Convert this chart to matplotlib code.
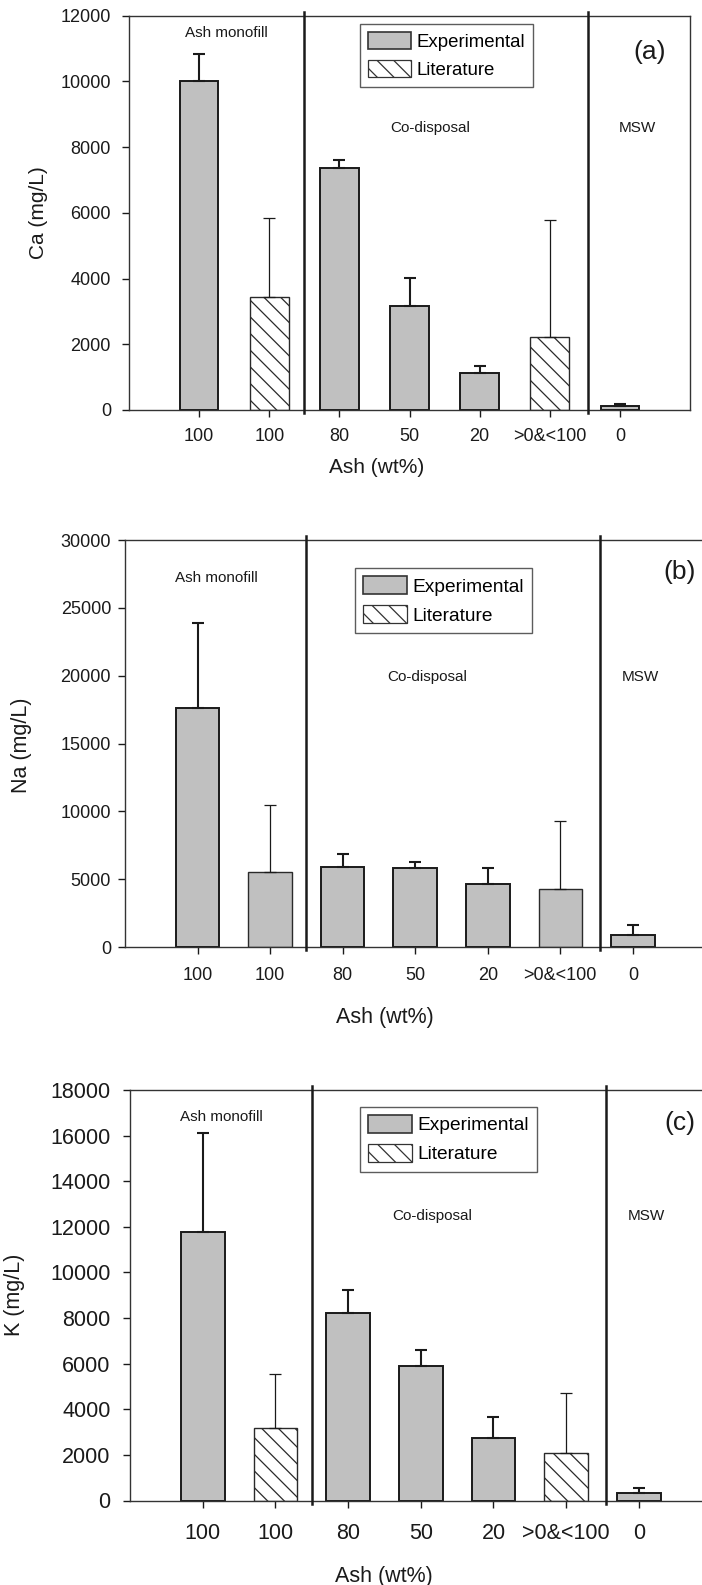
import matplotlib
matplotlib.use("Agg")
import matplotlib.pyplot as plt
import numpy as np
from matplotlib.patches import Patch

plt.rcParams["font.family"] = ["Liberation Sans", "DejaVu Sans"]
plt.rcParams["hatch.linewidth"] = 0.9

# ash content categories on the x axis
categories = ["100", "100", "80", "50", "20", ">0&<100", "0"]
is_literature = [False, True, False, False, False, True, False]

# mean concentration and upper error (mg/L)
ca_mean = [10000, 3440, 7370, 3170, 1120, 2220, 120]
ca_err = [820, 2410, 250, 860, 210, 3550, 60]
na_mean = [17650, 5510, 5900, 5840, 4660, 4240, 870]
na_err = [6230, 4990, 960, 450, 1140, 5070, 720]
k_mean = [11790, 3190, 8220, 5900, 2730, 2100, 320]
k_err = [4330, 2350, 990, 710, 940, 2600, 210]

region_labels = ["Ash monofill", "Co-disposal", "MSW"]
region_bounds = [1.5, 5.55]

GRAY = "#c0c0c0"
DARK = "#1a1a1a"
W, H = 702, 1585


def px_axes(left, top, width, bottom):
    return [left / W, 1 - bottom / H, width / W, (bottom - top) / H]


def draw_panel(fig, rect, means, errs, hatch_lit, ymax, ystep, ylabel, tag,
               bar_w, tick_fs, label_fs, tick_pad_x, tick_pad_y,
               ylab_xy, xlab_xy, region_pos, tag_pos, legend_xy, legend_fs):
    ax = fig.add_axes(rect)
    x = np.arange(len(categories))
    means = np.asarray(means, float)
    errs = np.asarray(errs, float)
    lit = np.asarray(is_literature)

    for i in x:
        hatched = hatch_lit and lit[i]
        ax.bar(x[i], means[i], width=bar_w,
               color="white" if hatched else GRAY,
               edgecolor="#2a2a2a" if lit[i] else DARK,
               linewidth=1.0 if lit[i] else 1.4,
               hatch="\\\\" if hatched else None, zorder=2)
    for mask, lw in [(~lit, 1.5), (lit, 0.9)]:
        ax.errorbar(x[mask], means[mask],
                    yerr=[np.zeros(mask.sum()), errs[mask]],
                    fmt="none", ecolor=DARK, elinewidth=lw, capsize=4,
                    capthick=lw, zorder=3)

    for b in region_bounds:
        ax.axvline(b, ymin=-0.008, ymax=1.01, color=DARK, lw=1.8,
                   clip_on=False, zorder=4)

    ax.set_xlim(-1, 7)
    ax.set_ylim(0, ymax)
    ax.set_yticks(np.arange(0, ymax + 1, ystep))
    ax.set_xticks(x)
    ax.set_xticklabels(categories)
    ax.tick_params(axis="x", direction="out", length=5, width=1,
                   labelsize=tick_fs, pad=tick_pad_x, colors=DARK)
    ax.tick_params(axis="y", direction="out", length=5, width=1,
                   labelsize=tick_fs, pad=tick_pad_y, colors=DARK)
    for s in ax.spines.values():
        s.set_color("#333333")
        s.set_linewidth(1.0)

    ax.set_ylabel(ylabel, fontsize=label_fs, color=DARK)
    ax.yaxis.set_label_coords(*ylab_xy)
    ax.set_xlabel("Ash (wt%)", fontsize=label_fs, color=DARK)
    ax.xaxis.set_label_coords(*xlab_xy)
    ax.xaxis.label.set_va("center")

    for name, (tx, ty) in zip(region_labels, region_pos):
        ax.text(tx, ty, name, fontsize=11, ha="center", va="center",
                color=DARK)
    ax.text(tag_pos[0], tag_pos[1], tag, fontsize=19, ha="center",
            va="center", color=DARK)

    handles = [Patch(facecolor=GRAY, edgecolor="#333333", lw=1.2),
               Patch(facecolor="white", edgecolor="#333333", lw=0.9,
                     hatch="\\\\")]
    leg = ax.legend(handles, ["Experimental", "Literature"],
                    loc="upper left", bbox_to_anchor=legend_xy,
                    fontsize=legend_fs, frameon=True, fancybox=False,
                    edgecolor="#333333", borderaxespad=0, borderpad=0.42,
                    handlelength=2.3, handleheight=1.05,
                    handletextpad=0.3, labelspacing=0.5)
    leg.get_frame().set_linewidth(1.0)
    leg.set_zorder(5)
    return ax


fig = plt.figure(figsize=(W / 100, H / 100), dpi=100)

# (a) Ca
draw_panel(fig, px_axes(129, 15.7, 561, 410), ca_mean, ca_err, True,
           12000, 2000, "Ca (mg/L)", "(a)", 0.55, 13, 15, 8, 8,
           (-0.144, 0.5), (0.442, -0.147),
           [(0.39, 11480), (3.30, 8590), (6.25, 8590)], (6.42, 10900),
           (0.412, 0.979), 13.4)

# (b) Na
draw_panel(fig, px_axes(125, 540, 580.4, 947), na_mean, na_err, False,
           30000, 5000, "Na (mg/L)", "(b)", 0.6, 13, 15.5, 9.5, 5,
           (-0.160, 0.496), (0.448, -0.174),
           [(0.26, 27200), (3.17, 19900), (6.11, 19900)], (6.65, 27640),
           (0.396, 0.931), 13.8)

# (c) K
draw_panel(fig, px_axes(130, 1090, 581.6, 1500.5), k_mean, k_err, True,
           18000, 2000, "K (mg/L)", "(c)", 0.6, 15.5, 15.5, 11, 9,
           (-0.1805, 0.5), (0.437, -0.184),
           [(0.25, 16830), (3.16, 12475), (6.1, 12475)], (6.56, 16550),
           (0.395, 0.9586), 13.8)

fig.savefig("out.png", dpi=100)
